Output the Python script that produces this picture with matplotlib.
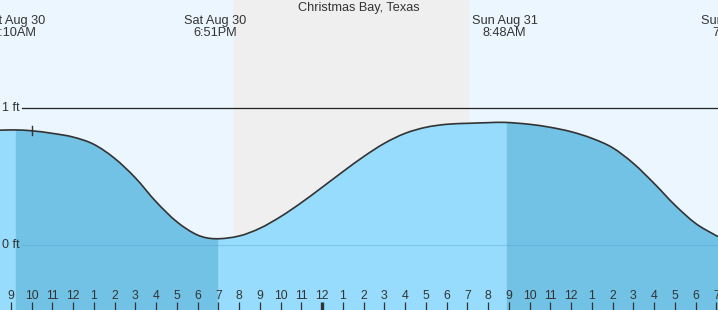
import matplotlib
matplotlib.use("Agg")
import matplotlib.pyplot as plt
from matplotlib.path import Path
from matplotlib.patches import PathPatch
import numpy as np

plt.rcParams['font.family'] = ['Liberation Sans', 'DejaVu Sans']

# hours since Sat Aug 30 00:00 and tide height (ft)
hours = [8.48, 9.17, 10, 11, 12, 13, 14, 15, 16, 17, 18, 18.85, 20, 21, 22, 23,
         24, 25, 26, 27, 28, 29, 30, 31, 32, 32.8, 34, 35, 36, 37, 38, 39, 40,
         41, 42, 43, 43.1]
heights = [0.838, 0.840, 0.834, 0.815, 0.788, 0.735, 0.633, 0.491, 0.316, 0.170,
           0.073, 0.046, 0.066, 0.122, 0.207, 0.309, 0.421, 0.535, 0.645, 0.742,
           0.815, 0.859, 0.881, 0.888, 0.893, 0.895, 0.881, 0.859, 0.827, 0.779,
           0.710, 0.596, 0.450, 0.292, 0.158, 0.068, 0.062]

event_times = [9.17, 18.85, 32.8, 43.87]
event_labels = ["Sat Aug 30\n9:10AM", "Sat Aug 30\n6:51PM",
                "Sun Aug 31\n8:48AM", "Sun Aug 31\n7:52PM"]

# falling-tide periods (darker fill)
falling = [(9.25, 18.94), (32.9, 43.2)]
night = (19.76, 31.04)
now_hour = 10.0

tick_hours = list(range(9, 44))
tick_labels = [str(h % 12 if h % 12 else 12) for h in tick_hours]
ylevels = [0, 1]
ylevel_labels = ["0 ft", "1 ft"]
title = "Christmas Bay, Texas"

x0, x1 = 8.48, 43.08
y0, y1 = -0.474, 1.788

fig = plt.figure(figsize=(7.18, 3.10), dpi=100)
ax = fig.add_axes([0, 0, 1, 1])
ax.set_xlim(x0, x1)
ax.set_ylim(y0, y1)
ax.axis('off')

ax.axvspan(x0, x1, color='#ecf6fe', zorder=0)
ax.axvspan(night[0], night[1], color='#efefef', zorder=0.5)

# smooth curve path (cubic Hermite via Bezier)
t = np.array(hours, float)
h = np.array(heights, float)
n = len(t)
m = np.zeros(n)
for i in range(n):
    a = max(i - 1, 0)
    b = min(i + 1, n - 1)
    m[i] = (h[b] - h[a]) / (t[b] - t[a])
verts = [(t[0], h[0])]
codes = [Path.MOVETO]
for i in range(n - 1):
    dx = t[i + 1] - t[i]
    verts += [(t[i] + dx / 3, h[i] + m[i] * dx / 3),
              (t[i + 1] - dx / 3, h[i + 1] - m[i + 1] * dx / 3),
              (t[i + 1], h[i + 1])]
    codes += [Path.CURVE4] * 3
line_path = Path(verts, codes)
fill_verts = verts + [(t[-1], y0 - 1), (t[0], y0 - 1), (t[0], h[0])]
fill_codes = codes + [Path.LINETO, Path.LINETO, Path.CLOSEPOLY]
fill_patch = PathPatch(Path(fill_verts, fill_codes), facecolor='#97dcfc',
                       edgecolor='none', zorder=1)
ax.add_patch(fill_patch)
for a, b in falling:
    sp = ax.axvspan(a, b, color='#72c2e6', zorder=1.2)
    sp.set_clip_path(fill_patch)

ax.add_patch(PathPatch(line_path, facecolor='none', edgecolor='#333333',
                       lw=1.2, zorder=3))

# now marker
ax.plot([now_hour, now_hour], [0.80, 0.87], color='#333333', lw=1.0, zorder=4)

# level lines
ax.plot([9.55, x1], [1, 1], color='#222222', lw=0.9, zorder=2)
ax.plot([9.55, x1], [0, 0], color='#4f9ccc', lw=0.8, alpha=0.35, zorder=2)
for lv, lab in zip(ylevels, ylevel_labels):
    ax.text(8.58, lv, lab, ha='left', va='center', fontsize=9,
            color='#333333', zorder=5)

# hour ticks
for hr, lab in zip(tick_hours, tick_labels):
    ax.text(hr, -0.37, lab, ha='center', va='center', fontsize=8.8,
            color='#333333', zorder=5)
    ax.plot([hr, hr], [y0, -0.416], color='#333333',
            lw=2.4 if hr == 24 else 0.9, zorder=5, solid_capstyle='butt')

# event labels
for et, lab in zip(event_times, event_labels):
    ax.text(et, 1.59, lab, ha='center', va='center', fontsize=9.2,
            color='#333333', linespacing=0.95, zorder=5)

ax.text((x0 + x1) / 2, 1.73, title, ha='center', va='center',
        fontsize=9.2, color='#333333', zorder=5)

fig.savefig('out.png', dpi=100)
